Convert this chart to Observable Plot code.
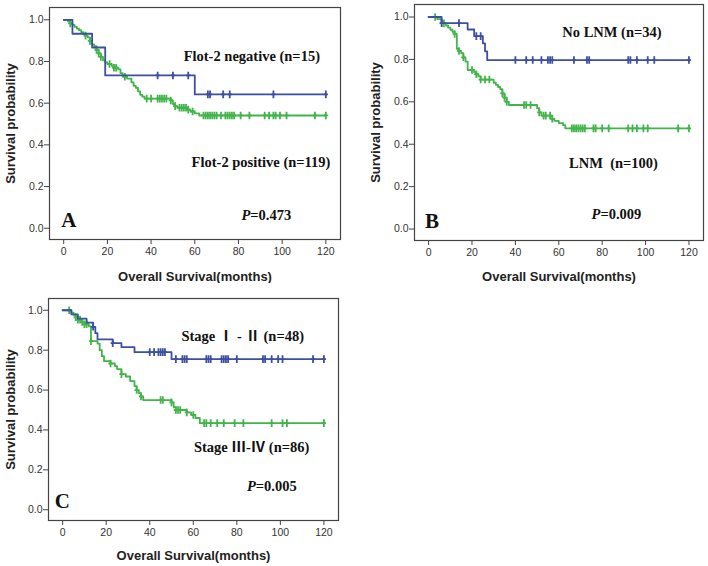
<!DOCTYPE html>
<html><head><meta charset="utf-8">
<script src="https://cdn.jsdelivr.net/npm/d3@7"></script>
<script src="https://cdn.jsdelivr.net/npm/@observablehq/plot@0.6"></script>
<style>
body{margin:0;background:#fff;}
#wrap{position:relative;width:708px;height:566px;background:#fff;overflow:hidden;}
.panel{position:absolute;}
.panel svg{overflow:visible;}
</style></head><body><div id="wrap"></div>
<script>
// ---- shared axis data ----
const xTicks = [0, 20, 40, 60, 80, 100, 120];
const yTicks = [0, 0.2, 0.4, 0.6, 0.8, 1.0];
const xTitle = "Overall Survival(months)";
const yTitle = "Survival probability";

// ---- Panel A: Flot-2 ----
const aBlueTimes = [4, 13, 19, 60];
const aBlueSurv  = [0.933, 0.867, 0.733, 0.642];
const aBlueCens  = [43, 50, 57, 66, 67, 73, 76, 96, 120];
const aGreenTimes = [2,3,4,5,6,7,8,9,10,11,12,13,14,15,16,17,18,19,20,22,23,25,26,27,29,31,32,33,34,35,36,37,49,50,51,52,57,58,60,62];
const aGreenSurv  = [0.992,0.983,0.975,0.966,0.958,0.950,0.941,0.933,0.924,0.916,0.899,0.882,0.873,0.856,0.839,0.822,0.805,0.796,0.788,0.779,0.770,0.762,0.744,0.727,0.718,0.700,0.683,0.674,0.657,0.640,0.631,0.622,0.613,0.595,0.586,0.578,0.569,0.560,0.551,0.541];
const aGreenCens  = [3,10,12,15,16,17,21,23,24,28,38,40,43,44,45,46,47,49,51,53,54,55,56,57,59,64,65,66,67,68,69,70,72,74,75,76,77,78,81,85,92,94,96,97,99,102,115,120];
const aLabels = ["Flot-2 negative (n=15)", "Flot-2 positive (n=119)"];
const aP = "=0.473";

// ---- Panel B: LNM ----
const bBlueTimes = [6, 18, 21, 25, 26, 27];
const bBlueSurv  = [0.971, 0.941, 0.910, 0.876, 0.838, 0.797];
const bBlueCens  = [6,14,22,24,40,45,48,52,55,56,57,67,73,74,92,93,96,101,104,120];
const bGreenTimes = [4,6,7,8,9,10,11,12,13,14,15,16,17,18,21,22,23,24,30,31,32,33,34,35,36,37,50,51,52,57,58,60,62,63];
const bGreenSurv  = [0.99,0.98,0.97,0.96,0.95,0.94,0.93,0.92,0.85,0.84,0.83,0.81,0.79,0.75,0.74,0.73,0.72,0.705,0.69,0.68,0.67,0.66,0.64,0.62,0.60,0.585,0.57,0.55,0.535,0.52,0.51,0.50,0.49,0.475];
const bGreenCens  = [3,7,12,14,16,20,22,24,26,28,34,35,36,44,45,47,51,53,54,56,57,66,67,68,69,70,71,72,76,77,80,83,92,94,96,99,101,115,120];
const bLabels = ["No LNM (n=34)", "LNM  (n=100)"];
const bP = "=0.009";

// ---- Panel C: Stage ----
const cBlueTimes = [4,7,11,14,15,16,23,27,33,50];
const cBlueSurv  = [0.979,0.958,0.938,0.917,0.885,0.854,0.835,0.815,0.79,0.755];
const cBlueCens  = [14,23,40,42,44,45,46,47,52,55,56,57,66,67,68,73,74,75,76,80,92,93,96,99,101,115,120];
const cGreenTimes = [4,5,6,7,9,10,12,13,16,17,18,19,22,24,25,27,29,31,33,34,35,36,37,50,51,52,57,59,61,63];
const cGreenSurv  = [0.988,0.977,0.965,0.953,0.942,0.930,0.919,0.845,0.833,0.80,0.77,0.745,0.733,0.72,0.705,0.68,0.668,0.645,0.62,0.60,0.585,0.568,0.55,0.538,0.513,0.50,0.488,0.475,0.46,0.434];
const cGreenCens  = [3,6,7,8,9,10,11,13,22,27,34,36,45,46,50,52,53,54,57,60,65,66,68,71,74,79,83,96,101,103,120];
const cLabels = ["Stage \u2160 - \u2161 (n=48)", "Stage \u2162-\u2163 (n=86)"];
const cP = "=0.005";

const panelLetters = ["A", "B", "C"];

const BLUE = "#3d4fa3";
const GREEN = "#41b54a";
const serif = "'Liberation Serif','Times New Roman','Noto Sans CJK SC',serif";

// step curve points and censor points
function curve(times, surv, cens) {
  const pts = [{t: 0, s: 1}];
  times.forEach((t, i) => pts.push({t, s: surv[i]}));
  const end = Math.max(d3.max(cens), d3.max(times));
  pts.push({t: end, s: surv[surv.length - 1]});
  const survAt = t => { let s = 1; times.forEach((tt, i) => { if (tt <= t) s = surv[i]; }); return s; };
  const cp = cens.map(t => ({t, s: survAt(t)}));
  return {pts, cp};
}

const censorSymbol = {
  draw(ctx, size) {
    const r = Math.sqrt(size / Math.PI);
    ctx.moveTo(0, -r); ctx.lineTo(0, r);
    ctx.moveTo(-r * 0.55, 0); ctx.lineTo(r * 0.55, 0);
  }
};

function curveMarks(c, color) {
  return [
    Plot.line(c.pts, {x: "t", y: "s", curve: "step-after", stroke: color, strokeWidth: 1.8}),
    Plot.dot(c.cp, {x: "t", y: "s", symbol: censorSymbol, r: 3.8, stroke: color, fill: "none", strokeWidth: 1.8})
  ];
}

function panel(cfg) {
  const green = curve(cfg.gT, cfg.gS, cfg.gC);
  const blue = curve(cfg.bT, cfg.bS, cfg.bC);
  return Plot.plot({
    width: 354, height: 283,
    marginLeft: cfg.ml, marginRight: cfg.mr, marginTop: cfg.mt, marginBottom: cfg.mb,
    x: {domain: [-6.5, 126.7]},
    y: {domain: [-0.054, 1.059]},
    style: {fontFamily: "'Liberation Sans',Arial,sans-serif", fontSize: "10.5px", color: "#333", background: "white"},
    marks: [
      Plot.frame({stroke: "#444", strokeWidth: 1.2}),
      Plot.axisX({ticks: xTicks, tickSize: 5, tickPadding: 3, label: null, tickFormat: d => String(d), stroke: "#444"}),
      Plot.axisY({ticks: yTicks, tickSize: 5, tickPadding: 1, label: null, tickFormat: d3.format(".1f"), stroke: "#444"}),
      ...curveMarks(green, GREEN),
      ...curveMarks(blue, BLUE),
      Plot.text([xTitle], {frameAnchor: "bottom", lineAnchor: "middle", textAnchor: "middle", dy: cfg.xtDy, text: d => d, fontWeight: "bold", fontSize: 13, fill: "#222"}),
      Plot.text([yTitle], {frameAnchor: "left", lineAnchor: "middle", textAnchor: "middle", rotate: -90, dx: cfg.ytDx, text: d => d, fontWeight: "bold", fontSize: 13, fill: "#222"}),
      Plot.text([cfg.labels[0]], {x: cfg.l1[0], y: cfg.l1[1], text: d => d, fontFamily: serif, fontWeight: "bold", fontSize: 14.5, fill: "#111"}),
      Plot.text([cfg.labels[1]], {x: cfg.l2[0], y: cfg.l2[1], text: d => d, fontFamily: serif, fontWeight: "bold", fontSize: 14.5, fill: "#111"}),
      Plot.text(["P"], {x: cfg.p[0], y: cfg.p[1], text: d => d, textAnchor: "end", fontFamily: serif, fontWeight: "bold", fontStyle: "italic", fontSize: 14.5, fill: "#111"}),
      Plot.text([cfg.pv], {x: cfg.p[0], y: cfg.p[1], text: d => d, textAnchor: "start", fontFamily: serif, fontWeight: "bold", fontSize: 14.5, fill: "#111"}),
      Plot.text([cfg.letter], {x: cfg.lt[0], y: cfg.lt[1], text: d => d, fontFamily: serif, fontWeight: "bold", fontSize: 21, fill: "#111"})
    ]
  });
}

const panels = [
  {left: 0, top: 0, ml: 49, mr: 14, mt: 7, mb: 44, xtDy: 37, ytDx: -39,
   gT: aGreenTimes, gS: aGreenSurv, gC: aGreenCens, bT: aBlueTimes, bS: aBlueSurv, bC: aBlueCens,
   labels: aLabels, l1: [86.1, 0.824], l2: [90.3, 0.317], p: [85.4, 0.064], pv: aP, letter: panelLetters[0], lt: [2.4, 0.04]},
  {left: 354, top: 0, ml: 60, mr: 5, mt: 4, mb: 43, xtDy: 36, ytDx: -38.5,
   gT: bGreenTimes, gS: bGreenSurv, gC: bGreenCens, bT: bBlueTimes, bS: bBlueSurv, bC: bBlueCens,
   labels: bLabels, l1: [84.5, 0.928], l2: [85.2, 0.312], p: [79.2, 0.071], pv: bP, letter: panelLetters[1], lt: [1.6, 0.038]},
  {left: 0, top: 283, ml: 48, mr: 16, mt: 15, mb: 46, xtDy: 35.5, ytDx: -38,
   gT: cGreenTimes, gS: cGreenSurv, gC: cGreenCens, bT: cBlueTimes, bS: cBlueSurv, bC: cBlueCens,
   labels: cLabels, l1: [82.7, 0.869], l2: [86.8, 0.314], p: [88.7, 0.117], pv: cP, letter: panelLetters[2], lt: [-0.1, 0.044]}
];

const wrap = document.getElementById("wrap");
panels.forEach(cfg => {
  const div = document.createElement("div");
  div.className = "panel";
  div.style.left = cfg.left + "px";
  div.style.top = cfg.top + "px";
  div.appendChild(panel(cfg));
  wrap.appendChild(div);
});
</script>
</body></html>
